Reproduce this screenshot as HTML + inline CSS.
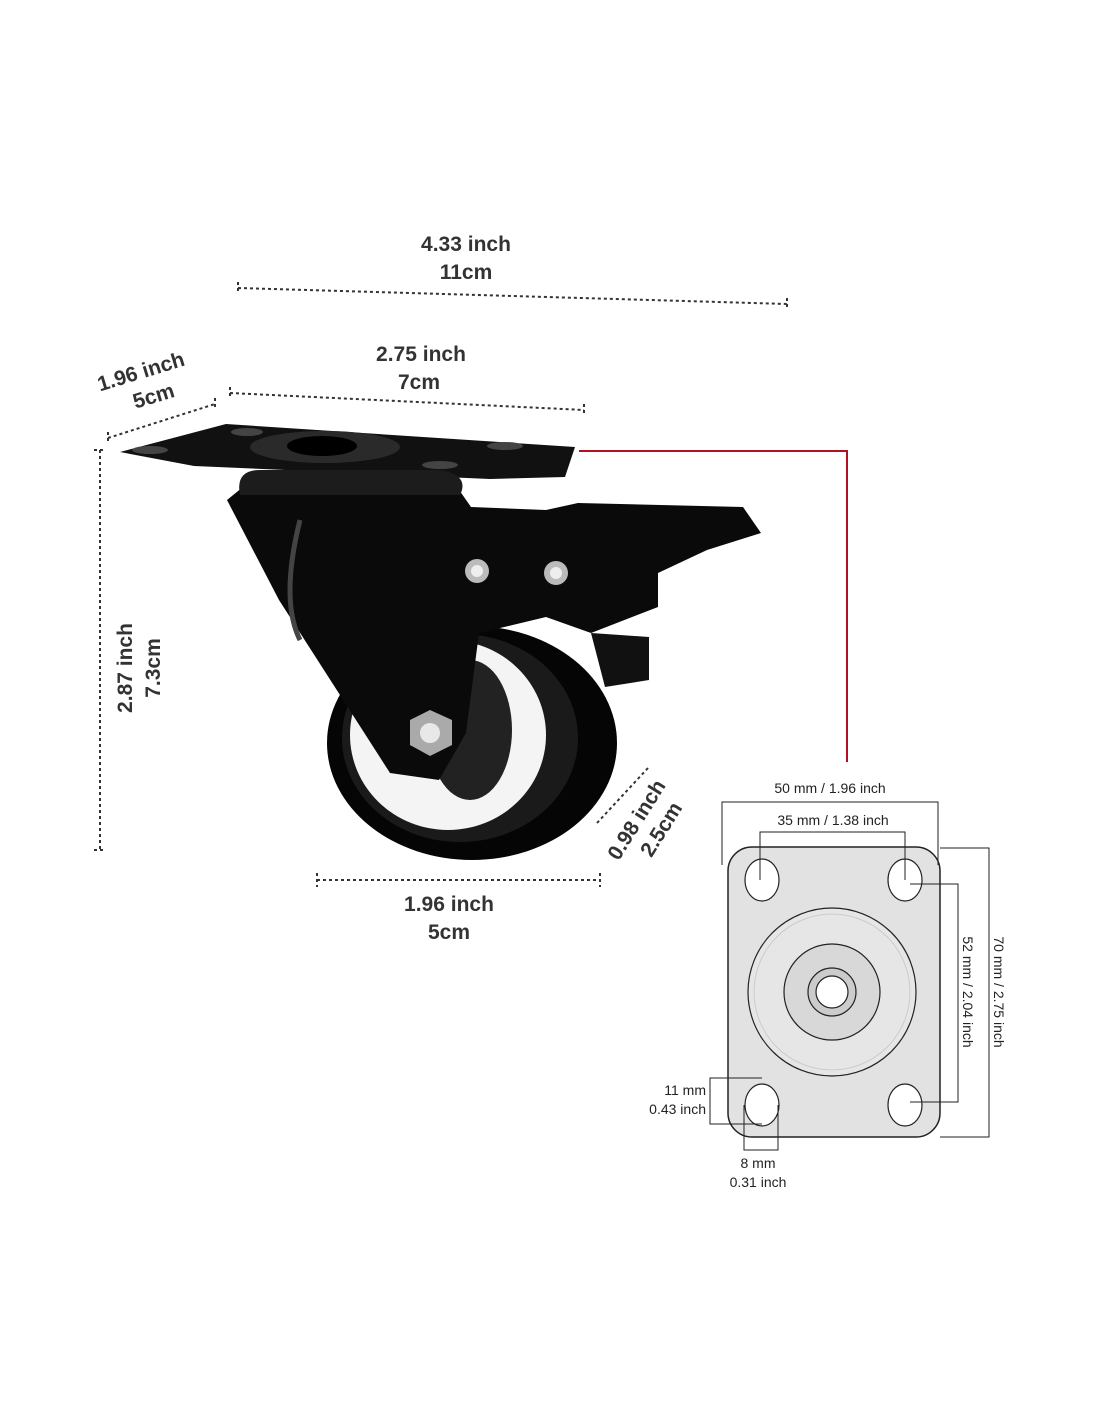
<!DOCTYPE html>
<html><head><meta charset="utf-8"><style>
html,body{margin:0;padding:0;background:#fff}
svg{display:block}
.b{font-family:"Liberation Sans",sans-serif;font-weight:bold;font-size:21px;fill:#333}
.s{font-family:"Liberation Sans",sans-serif;font-size:14px;fill:#222}
.d{stroke:#333;stroke-width:2;stroke-dasharray:3 3;fill:none}
</style></head><body>
<svg width="1100" height="1422" viewBox="0 0 1100 1422" xmlns="http://www.w3.org/2000/svg">
<rect width="1100" height="1422" fill="#fff"/>
<!-- top dims -->
<text class="b" x="466" y="251" text-anchor="middle">4.33 inch</text>
<text class="b" x="466" y="279" text-anchor="middle">11cm</text>
<path class="d" d="M238 288 L787 304 M238 282 V294 M787 298 V310"/>
<text class="b" x="421" y="361" text-anchor="middle">2.75 inch</text>
<text class="b" x="419" y="389" text-anchor="middle">7cm</text>
<path class="d" d="M230 393 L584 410 M230 387 V399 M584 404 V416"/>
<g transform="rotate(-17 145 385)">
<text class="b" x="145" y="378" text-anchor="middle">1.96 inch</text>
<text class="b" x="150" y="405" text-anchor="middle">5cm</text>
</g>
<path class="d" d="M108 438 L215 404 M108 432 V444 M215 398 V410"/>
<path class="d" d="M100 450 V850 M94 450 H104 M94 850 H104"/>
<text class="b" transform="translate(132 668) rotate(-90)" text-anchor="middle">2.87 inch</text>
<text class="b" transform="translate(160 668) rotate(-90)" text-anchor="middle">7.3cm</text>
<path class="d" d="M317 880 H600 M317 873 V887 M600 873 V887"/>
<text class="b" x="449" y="911" text-anchor="middle">1.96 inch</text>
<text class="b" x="449" y="939" text-anchor="middle">5cm</text>
<path class="d" d="M597 823 L648 768"/>
<g transform="rotate(-58 645 825)">
<text class="b" x="645" y="822" text-anchor="middle">0.98 inch</text>
<text class="b" x="650" y="848" text-anchor="middle">2.5cm</text>
</g>
<!-- red connector -->
<path d="M579 451 H847 V762" stroke="#b01020" stroke-width="2" fill="none"/>
<!-- caster -->
<polygon points="120,452 226,424 575,447 565,477 490,479 194,466" fill="#111"/>
<ellipse cx="325" cy="447" rx="75" ry="16" fill="#2a2a2a"/>
<ellipse cx="322" cy="446" rx="35" ry="10" fill="#000"/>
<ellipse cx="150" cy="450" rx="18" ry="4" fill="#444"/>
<ellipse cx="247" cy="432" rx="16" ry="4" fill="#444"/>
<ellipse cx="505" cy="446" rx="18" ry="4" fill="#444"/>
<ellipse cx="440" cy="465" rx="18" ry="4" fill="#444"/>
<ellipse cx="472" cy="743" rx="145" ry="117" fill="#050505"/>
<ellipse cx="460" cy="738" rx="118" ry="104" fill="#1a1a1a"/>
<ellipse cx="448" cy="735" rx="98" ry="95" fill="#f4f4f4"/>
<ellipse cx="470" cy="730" rx="42" ry="70" fill="#222"/>
<polygon points="227,500 243,487 457,487 471,507 546,510 578,503 743,507 761,533 707,550 658,573 658,607 591,633 546,617 479,633 466,733 439,780 390,773 279,600" fill="#0a0a0a"/>
<path d="M240 495 Q235 470 260 470 L440 470 Q470 475 460 495 Z" fill="#1c1c1c"/>
<path d="M300 520 Q280 600 300 640" stroke="#444" stroke-width="5" fill="none"/>
<polygon points="591,633 649,637 649,680 605,687" fill="#111"/>
<circle cx="477" cy="571" r="12" fill="#bbb"/><circle cx="477" cy="571" r="6" fill="#eee"/>
<circle cx="556" cy="573" r="12" fill="#bbb"/><circle cx="556" cy="573" r="6" fill="#eee"/>
<polygon points="410,720 430,710 452,720 452,745 430,756 410,745" fill="#aaa"/>
<circle cx="430" cy="733" r="10" fill="#e8e8e8"/>
<!-- top view plate -->
<rect x="728" y="847" width="212" height="290" rx="24" fill="#e2e2e2" stroke="#222" stroke-width="1.5"/>
<circle cx="832" cy="992" r="84" fill="#e6e6e6" stroke="#222" stroke-width="1.2"/>
<circle cx="832" cy="992" r="78" fill="none" stroke="#ccc" stroke-width="1"/>
<circle cx="832" cy="992" r="48" fill="#d8d8d8" stroke="#222" stroke-width="1.2"/>
<circle cx="832" cy="992" r="24" fill="#ccc" stroke="#222" stroke-width="1.2"/>
<circle cx="832" cy="992" r="16" fill="#fff" stroke="#222" stroke-width="1.2"/>
<ellipse cx="762" cy="880" rx="17" ry="21" fill="#fff" stroke="#222" stroke-width="1.2"/>
<ellipse cx="905" cy="880" rx="17" ry="21" fill="#fff" stroke="#222" stroke-width="1.2"/>
<ellipse cx="762" cy="1105" rx="17" ry="21" fill="#fff" stroke="#222" stroke-width="1.2"/>
<ellipse cx="905" cy="1105" rx="17" ry="21" fill="#fff" stroke="#222" stroke-width="1.2"/>
<g stroke="#222" stroke-width="1" fill="none">
<path d="M722 865 V802 H938 V865"/>
<path d="M760 880 V832 H905 V880"/>
<path d="M940 848 H989 V1137 H940"/>
<path d="M910 884 H958 V1102 H910"/>
<path d="M762 1078 H710 V1124 H762"/>
<path d="M744 1105 V1150 H778 V1105"/>
</g>
<text class="s" x="830" y="793" text-anchor="middle">50 mm / 1.96 inch</text>
<text class="s" x="833" y="825" text-anchor="middle">35 mm / 1.38 inch</text>
<text class="s" transform="translate(994 992) rotate(90)" text-anchor="middle">70 mm / 2.75 inch</text>
<text class="s" transform="translate(963 992) rotate(90)" text-anchor="middle">52 mm / 2.04 inch</text>
<text class="s" x="706" y="1095" text-anchor="end">11 mm</text>
<text class="s" x="706" y="1114" text-anchor="end">0.43 inch</text>
<text class="s" x="758" y="1168" text-anchor="middle">8 mm</text>
<text class="s" x="758" y="1187" text-anchor="middle">0.31 inch</text>
</svg>
</body></html>
